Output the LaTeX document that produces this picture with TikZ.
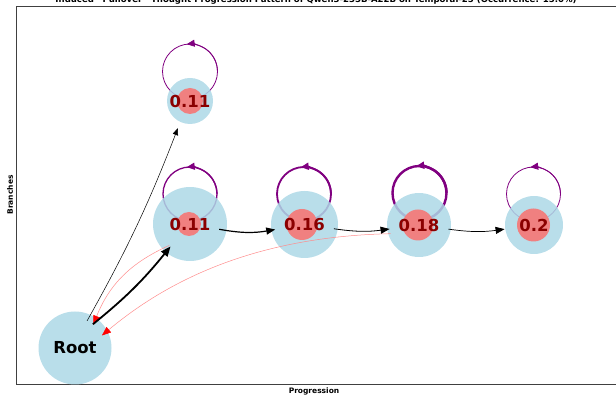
\documentclass[tikz,border=0pt]{standalone}
\usepackage{fontspec}
\setmainfont{DejaVu Sans}
\usetikzlibrary{arrows.meta,calc}
\definecolor{nodeblue}{HTML}{ADD8E6}
\definecolor{innerred}{HTML}{F08080}
\definecolor{valred}{HTML}{8B0000}
\definecolor{loopc}{HTML}{800080}
\begin{document}
\begin{tikzpicture}[x=1pt,y=1pt,
  hub/.style={circle,inner sep=0pt,minimum size=59pt},
  lbl/.style={font=\fontsize{16.5}{16.5}\selectfont\bfseries},
  bluec/.style={circle,inner sep=0pt,fill=nodeblue,fill opacity=0.85},
  redc/.style={circle,inner sep=0pt,fill=innerred},
  loopline/.style={draw=loopc},
  looptip/.style={-{Triangle[length=8pt,width=7pt]}},
  blk/.style={draw=black},
  redl/.style={draw=red!45,line width=0.5pt,-{Triangle[length=9pt,width=7pt,color=red]}},
  axlbl/.style={font=\fontsize{7.5}{7.5}\selectfont\bfseries}
]
\useasboundingbox (0,0) rectangle (616,396);

% title (partly cut off at the top, as in the reference)
\node[anchor=base,inner sep=0pt] (title) at (316,393.2)
  {\resizebox{521pt}{!}{\bfseries Induced "Pullover" Thought Progression Pattern of Qwen3-235B-A22B on Temporal-25 (Occurrence: 15.0\%)}};

% axes frame
\draw[black!75,line width=0.8pt] (630,390) -- (16.5,390) -- (16.5,11.5) -- (630,11.5);
\node[axlbl,rotate=90] (ylab) at (10,201) {Branches};
\node[axlbl] (xlab) at (314,5) {Progression};

% loop centres
\coordinate (Tl) at (190,324.5);
\coordinate (Ml) at (190,202);
\coordinate (Al) at (304,202);
\coordinate (Bl) at (419.5,203);
\coordinate (Cl) at (533.5,202);

% self loops (behind nodes)
\draw[loopline,line width=0.8pt] (Tl) circle[radius=27.5];
\draw[loopline,line width=0.8pt,looptip] ($(Tl)+(27.5,0)$) arc[start angle=0,end angle=97,radius=27.5];
\draw[loopline,line width=1.3pt] (Ml) circle[radius=27];
\draw[loopline,line width=1.3pt,looptip] ($(Ml)+(27,0)$) arc[start angle=0,end angle=97,radius=27];
\draw[loopline,line width=1.8pt] (Al) circle[radius=27];
\draw[loopline,line width=1.8pt,looptip] ($(Al)+(27,0)$) arc[start angle=0,end angle=97,radius=27];
\draw[loopline,line width=2.4pt] (Bl) circle[radius=27];
\draw[loopline,line width=2.4pt,looptip] ($(Bl)+(27,0)$) arc[start angle=0,end angle=97,radius=27];
\draw[loopline,line width=0.8pt] (Cl) circle[radius=27];
\draw[loopline,line width=0.8pt,looptip] ($(Cl)+(27,0)$) arc[start angle=0,end angle=97,radius=27];

% node discs
\node[bluec,minimum size=73pt] (root-bg) at (75,48) {};
\node[bluec,minimum size=46pt] (T-bg) at (190,295) {};
\node[redc,minimum size=26pt] (T-in) at (190,295) {};
\node[bluec,minimum size=74pt] (M-bg) at (190,172) {};
\node[redc,minimum size=24pt] (M-in) at (189,172) {};
\node[bluec,minimum size=67pt] (A-bg) at (304.5,171.5) {};
\node[redc,minimum size=31pt] (A-in) at (302,171.5) {};
\node[bluec,minimum size=64pt] (B-bg) at (419,171) {};
\node[redc,minimum size=31pt] (B-in) at (418,171) {};
\node[bluec,minimum size=58pt] (C-bg) at (534,171) {};
\node[redc,minimum size=33pt] (C-in) at (533.5,171) {};

% labelled hubs
\node[hub,lbl,text=black] (root) at (75,48) {Root};
\node[hub,lbl,text=valred] (T) at (190,295) {0.11};
\node[hub,lbl,text=valred] (M) at (190,172) {0.11};
\node[hub,lbl,text=valred] (A) at (304.5,171.5) {0.16};
\node[hub,lbl,text=valred] (B) at (419,171) {0.18};
\node[hub,lbl,text=valred] (C) at (534,171) {0.2};

% edges
\draw[redl] (M.226) to[bend right=22] (root.52);
\draw[redl] (B.197) .. controls (280,160) and (185,130) .. (root.25);
\draw[blk,line width=0.5pt,-{Triangle[length=7pt,width=5.5pt]}] (root.66) to[bend right=4] (T.246);
\draw[blk,line width=1.8pt,-{Triangle[length=10pt,width=8pt]}] (root.53) to[bend right=6] (M.229);
\draw[blk,line width=1.2pt,-{Triangle[length=9pt,width=7pt]}] (M) to[bend right=10] (A);
\draw[blk,line width=0.8pt,-{Triangle[length=9pt,width=7pt]}] (A) to[bend right=8] (B);
\draw[blk,line width=0.7pt,-{Triangle[length=9pt,width=7pt]}] (B) to[bend right=8] (C);
\end{tikzpicture}
\end{document}
